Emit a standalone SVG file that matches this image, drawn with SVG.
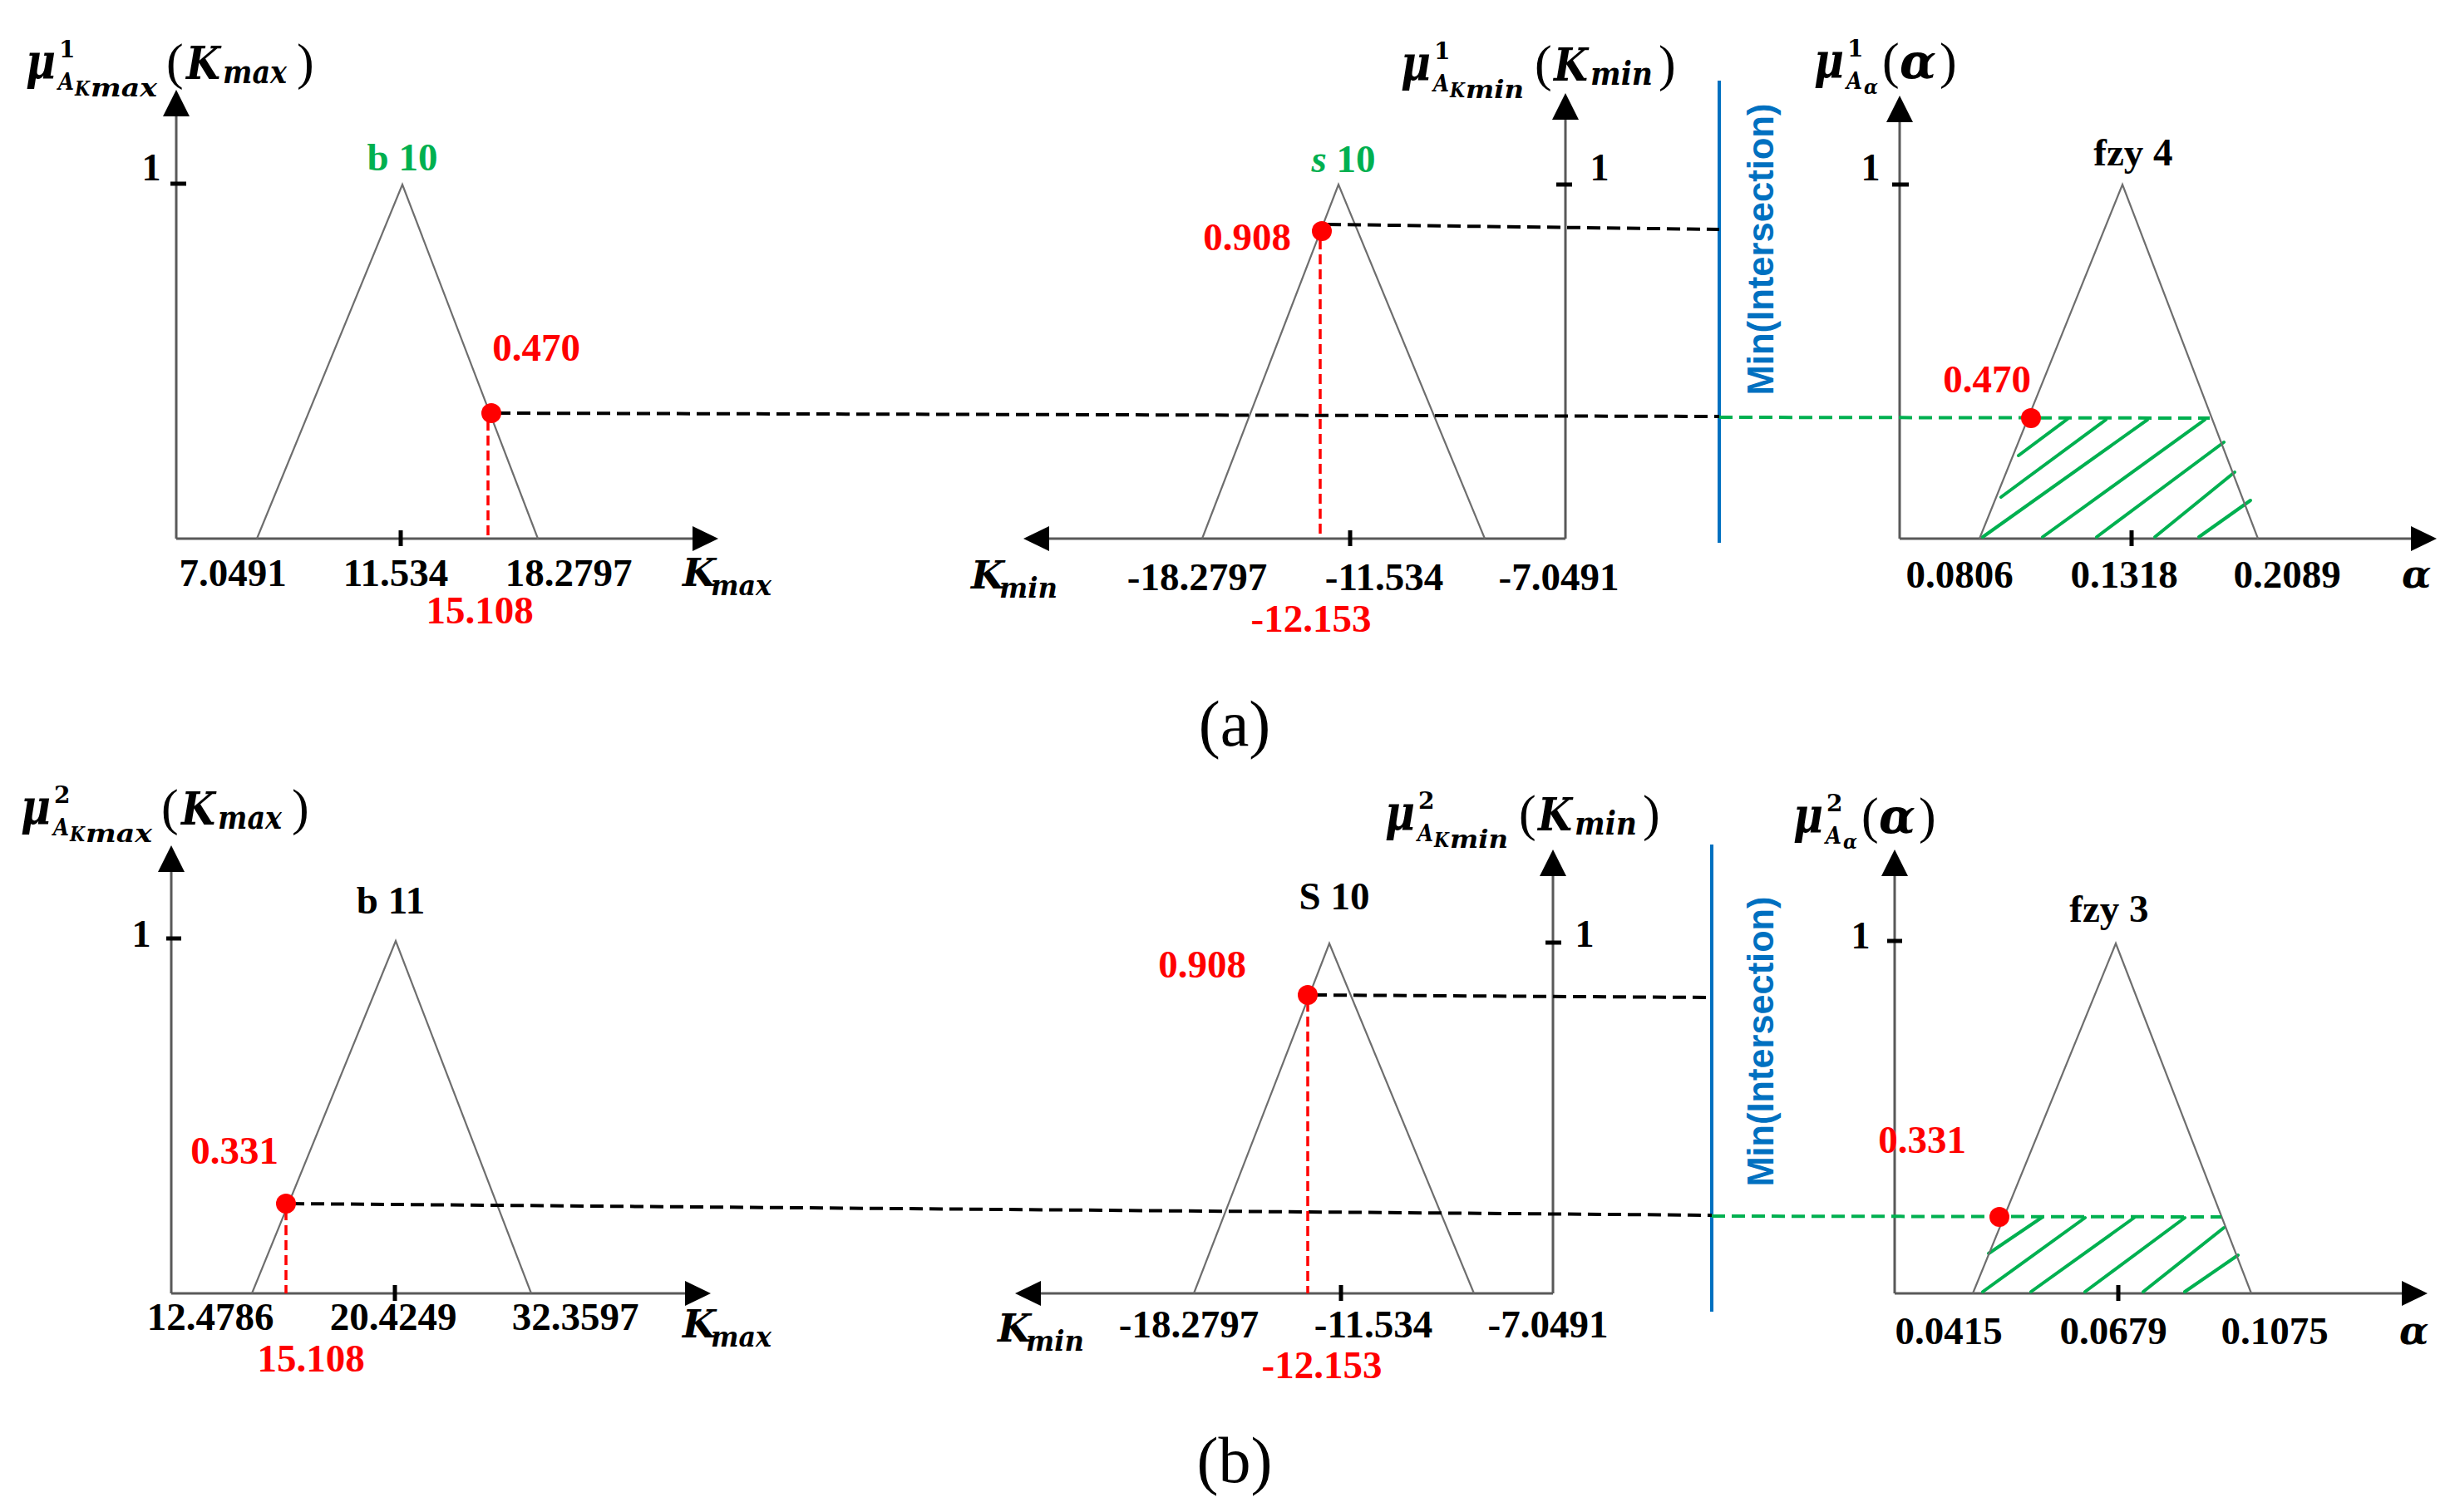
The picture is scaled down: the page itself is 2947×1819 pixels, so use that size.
<svg xmlns="http://www.w3.org/2000/svg" width="2947" height="1819" viewBox="0 0 2947 1819">
<style>
.ax{stroke:#595959;stroke-width:3;fill:none}
.tri{stroke:#6e6e6e;stroke-width:2.2;fill:none}
.tk{stroke:#000;stroke-width:5}
.ah{fill:#000}
.dk{stroke:#000;stroke-width:4;stroke-dasharray:16 8;fill:none}
.dr{stroke:#FF0000;stroke-width:3.5;stroke-dasharray:12 6}
.dg{stroke:#00B050;stroke-width:4;stroke-dasharray:16 8}
.ht{stroke:#00B050;stroke-width:4;stroke-linecap:round}
.bl{stroke:#0070C0;stroke-width:4}
.dot{fill:#FF0000}
.num{font-family:"Liberation Serif",serif;font-weight:bold;font-size:47px;text-anchor:middle;fill:#000}
.one{font-family:"Liberation Serif",serif;font-weight:bold;font-size:46px;text-anchor:middle;fill:#000}
.red{fill:#FF0000}
.grn{fill:#00B050}
.mi{font-family:"DejaVu Serif",serif;font-weight:bold;font-style:italic;fill:#000}
.up{font-style:normal}
.par{font-family:"Liberation Serif",serif;font-weight:normal;font-style:normal;font-size:62px}
.mint{font-family:"Liberation Sans",sans-serif;font-weight:bold;font-size:44px;fill:#0070C0;text-anchor:middle}
.cap{font-family:"Liberation Serif",serif;font-size:78px;text-anchor:middle;fill:#000}
</style>

<!-- ===================== Panel (a) ===================== -->
<g id="a-kmax">
  <line class="ax" x1="212" y1="648" x2="212" y2="138"/>
  <polygon class="ah" points="212,108 196,140 228,140"/>
  <line class="ax" x1="212" y1="648" x2="834" y2="648"/>
  <polygon class="ah" points="864,648 833,633 833,663"/>
  <line class="tk" x1="205" y1="221" x2="224" y2="221"/>
  <line class="tk" x1="482" y1="638" x2="482" y2="657"/>
  <polyline class="tri" points="309,648 484,222 647,648"/>
  <text class="one" x="182" y="217">1</text>
  <text class="num grn" x="484" y="205">b 10</text>
  <text class="num red" x="645" y="434">0.470</text>
  <text class="num" x="280" y="705">7.0491</text>
  <text class="num" x="476" y="705">11.534</text>
  <text class="num" x="684" y="705">18.2797</text>
  <text class="num red" x="577" y="750">15.108</text>
  <text class="mi" x="821" y="705" font-size="46">K<tspan x="855" y="716" font-size="34" textLength="73" lengthAdjust="spacingAndGlyphs">max</tspan></text>
  <text class="mi" transform="translate(31,95)" font-size="60"><tspan x="0" y="0" textLength="36" lengthAdjust="spacingAndGlyphs">μ</tspan><tspan class="up" x="40" y="-26" font-size="28">1</tspan><tspan x="39" y="13" font-size="28" textLength="19" lengthAdjust="spacingAndGlyphs">A</tspan><tspan x="59" y="20" font-size="25" textLength="18" lengthAdjust="spacingAndGlyphs">K</tspan><tspan x="78" y="21" font-size="30" textLength="80" lengthAdjust="spacingAndGlyphs">max</tspan><tspan class="par" x="169" y="0">(</tspan><tspan x="193" y="0" font-size="54" textLength="41" lengthAdjust="spacingAndGlyphs">K</tspan><tspan x="237" y="5" font-size="40" textLength="77" lengthAdjust="spacingAndGlyphs">max</tspan><tspan class="par" x="326" y="0">)</tspan></text>
</g>

<g id="a-kmin">
  <line class="ax" x1="1883" y1="648" x2="1883" y2="142"/>
  <polygon class="ah" points="1883,112 1867,144 1899,144"/>
  <line class="ax" x1="1883" y1="648" x2="1260" y2="648"/>
  <polygon class="ah" points="1231,648 1262,633 1262,663"/>
  <line class="tk" x1="1872" y1="222" x2="1891" y2="222"/>
  <line class="tk" x1="1624" y1="638" x2="1624" y2="657"/>
  <polyline class="tri" points="1446,648 1610,222 1786,648"/>
  <text class="one" x="1924" y="217">1</text>
  <text class="num grn" x="1616" y="207"><tspan font-style="italic">s</tspan> 10</text>
  <text class="num red" x="1500" y="301">0.908</text>
  <text class="num" x="1440" y="710">-18.2797</text>
  <text class="num" x="1665" y="710">-11.534</text>
  <text class="num" x="1875" y="710">-7.0491</text>
  <text class="num red" x="1577" y="760">-12.153</text>
  <text class="mi" x="1168" y="708" font-size="46">K<tspan x="1202" y="719" font-size="34" textLength="70" lengthAdjust="spacingAndGlyphs">min</tspan></text>
  <text class="mi" transform="translate(1685,97)" font-size="60"><tspan x="0" y="0" textLength="36" lengthAdjust="spacingAndGlyphs">μ</tspan><tspan class="up" x="40" y="-26" font-size="28">1</tspan><tspan x="39" y="13" font-size="28" textLength="19" lengthAdjust="spacingAndGlyphs">A</tspan><tspan x="59" y="20" font-size="25" textLength="18" lengthAdjust="spacingAndGlyphs">K</tspan><tspan x="78" y="21" font-size="30" textLength="70" lengthAdjust="spacingAndGlyphs">min</tspan><tspan class="par" x="161" y="0">(</tspan><tspan x="184" y="0" font-size="54" textLength="41" lengthAdjust="spacingAndGlyphs">K</tspan><tspan x="228" y="5" font-size="40" textLength="75" lengthAdjust="spacingAndGlyphs">min</tspan><tspan class="par" x="310" y="0">)</tspan></text>
</g>

<g id="a-min">
  <line class="bl" x1="2068" y1="97" x2="2068" y2="653"/>
  <text class="mint" transform="translate(2133,300) rotate(-90)" textLength="351" lengthAdjust="spacingAndGlyphs">Min(Intersection)</text>
</g>

<g id="a-alpha">
  <line class="ax" x1="2285" y1="648" x2="2285" y2="145"/>
  <polygon class="ah" points="2285,115 2269,147 2301,147"/>
  <line class="ax" x1="2285" y1="648" x2="2902" y2="648"/>
  <polygon class="ah" points="2931,648 2900,633 2900,663"/>
  <line class="tk" x1="2276" y1="222" x2="2296" y2="222"/>
  <line class="tk" x1="2564" y1="638" x2="2564" y2="657"/>
  <g>
    <line class="ht" x1="2428" y1="548" x2="2487" y2="504"/>
    <line class="ht" x1="2407" y1="598" x2="2533" y2="505"/>
    <line class="ht" x1="2385" y1="646" x2="2583" y2="505"/>
    <line class="ht" x1="2457" y1="646" x2="2652" y2="505"/>
    <line class="ht" x1="2522" y1="646" x2="2675" y2="532"/>
    <line class="ht" x1="2592" y1="646" x2="2688" y2="568"/>
    <line class="ht" x1="2645" y1="646" x2="2707" y2="602"/>
  </g>
  <polyline class="tri" points="2381,648 2553,222 2716,648"/>
  <text class="one" x="2250" y="217">1</text>
  <text class="num" x="2566" y="199">fzy 4</text>
  <text class="num red" x="2390" y="472">0.470</text>
  <text class="num" x="2357" y="707">0.0806</text>
  <text class="num" x="2555" y="707">0.1318</text>
  <text class="num" x="2751" y="707">0.2089</text>
  <text class="mi" x="2889" y="707" font-size="46">α</text>
  <text class="mi" transform="translate(2182,94)" font-size="60"><tspan x="0" y="0" textLength="36" lengthAdjust="spacingAndGlyphs">μ</tspan><tspan class="up" x="40" y="-26" font-size="28">1</tspan><tspan x="39" y="13" font-size="28" textLength="19" lengthAdjust="spacingAndGlyphs">A</tspan><tspan x="60" y="19" font-size="25" textLength="17" lengthAdjust="spacingAndGlyphs">α</tspan><tspan class="par" x="82" y="0">(</tspan><tspan x="103" y="0" font-size="58" textLength="44" lengthAdjust="spacingAndGlyphs">α</tspan><tspan class="par" x="151" y="0">)</tspan></text>
</g>

<text id="cap-a" class="cap" x="1485" y="897">(a)</text>

<!-- ===================== Panel (b) ===================== -->
<g id="b-kmax">
  <line class="ax" x1="206" y1="1556" x2="206" y2="1047"/>
  <polygon class="ah" points="206,1017 190,1049 222,1049"/>
  <line class="ax" x1="206" y1="1556" x2="826" y2="1556"/>
  <polygon class="ah" points="855,1556 824,1541 824,1571"/>
  <line class="tk" x1="200" y1="1129" x2="218" y2="1129"/>
  <line class="tk" x1="475" y1="1546" x2="475" y2="1565"/>
  <polyline class="tri" points="303,1556 476,1132 639,1556"/>
  <text class="one" x="170" y="1139">1</text>
  <text class="num" x="470" y="1099">b 11</text>
  <text class="num red" x="282" y="1400">0.331</text>
  <text class="num" x="253" y="1600">12.4786</text>
  <text class="num" x="473" y="1600">20.4249</text>
  <text class="num" x="692" y="1600">32.3597</text>
  <text class="num red" x="374" y="1650">15.108</text>
  <text class="mi" x="821" y="1609" font-size="46">K<tspan x="855" y="1620" font-size="34" textLength="73" lengthAdjust="spacingAndGlyphs">max</tspan></text>
  <text class="mi" transform="translate(25,992)" font-size="60"><tspan x="0" y="0" textLength="36" lengthAdjust="spacingAndGlyphs">μ</tspan><tspan class="up" x="40" y="-26" font-size="28">2</tspan><tspan x="39" y="13" font-size="28" textLength="19" lengthAdjust="spacingAndGlyphs">A</tspan><tspan x="59" y="20" font-size="25" textLength="18" lengthAdjust="spacingAndGlyphs">K</tspan><tspan x="78" y="21" font-size="30" textLength="80" lengthAdjust="spacingAndGlyphs">max</tspan><tspan class="par" x="169" y="0">(</tspan><tspan x="193" y="0" font-size="54" textLength="41" lengthAdjust="spacingAndGlyphs">K</tspan><tspan x="237" y="5" font-size="40" textLength="77" lengthAdjust="spacingAndGlyphs">max</tspan><tspan class="par" x="326" y="0">)</tspan></text>
</g>

<g id="b-kmin">
  <line class="ax" x1="1868" y1="1556" x2="1868" y2="1052"/>
  <polygon class="ah" points="1868,1022 1852,1054 1884,1054"/>
  <line class="ax" x1="1868" y1="1556" x2="1250" y2="1556"/>
  <polygon class="ah" points="1221,1556 1252,1541 1252,1571"/>
  <line class="tk" x1="1859" y1="1134" x2="1878" y2="1134"/>
  <line class="tk" x1="1613" y1="1546" x2="1613" y2="1565"/>
  <polyline class="tri" points="1436,1556 1599,1135 1773,1556"/>
  <text class="one" x="1906" y="1139">1</text>
  <text class="num" x="1605" y="1094">S 10</text>
  <text class="num red" x="1446" y="1176">0.908</text>
  <text class="num" x="1430" y="1609">-18.2797</text>
  <text class="num" x="1652" y="1609">-11.534</text>
  <text class="num" x="1862" y="1609">-7.0491</text>
  <text class="num red" x="1590" y="1658">-12.153</text>
  <text class="mi" x="1200" y="1614" font-size="46">K<tspan x="1234" y="1625" font-size="34" textLength="70" lengthAdjust="spacingAndGlyphs">min</tspan></text>
  <text class="mi" transform="translate(1666,999)" font-size="60"><tspan x="0" y="0" textLength="36" lengthAdjust="spacingAndGlyphs">μ</tspan><tspan class="up" x="40" y="-26" font-size="28">2</tspan><tspan x="39" y="13" font-size="28" textLength="19" lengthAdjust="spacingAndGlyphs">A</tspan><tspan x="59" y="20" font-size="25" textLength="18" lengthAdjust="spacingAndGlyphs">K</tspan><tspan x="78" y="21" font-size="30" textLength="70" lengthAdjust="spacingAndGlyphs">min</tspan><tspan class="par" x="161" y="0">(</tspan><tspan x="184" y="0" font-size="54" textLength="41" lengthAdjust="spacingAndGlyphs">K</tspan><tspan x="228" y="5" font-size="40" textLength="75" lengthAdjust="spacingAndGlyphs">min</tspan><tspan class="par" x="310" y="0">)</tspan></text>
</g>

<g id="b-min">
  <line class="bl" x1="2059" y1="1016" x2="2059" y2="1578"/>
  <text class="mint" transform="translate(2133,1253) rotate(-90)" textLength="349" lengthAdjust="spacingAndGlyphs">Min(Intersection)</text>
</g>

<g id="b-alpha">
  <line class="ax" x1="2279" y1="1556" x2="2279" y2="1052"/>
  <polygon class="ah" points="2279,1022 2263,1054 2295,1054"/>
  <line class="ax" x1="2279" y1="1556" x2="2891" y2="1556"/>
  <polygon class="ah" points="2920,1556 2889,1541 2889,1571"/>
  <line class="tk" x1="2270" y1="1132" x2="2288" y2="1132"/>
  <line class="tk" x1="2548" y1="1546" x2="2548" y2="1565"/>
  <g>
    <line class="ht" x1="2392" y1="1508" x2="2457" y2="1464"/>
    <line class="ht" x1="2385" y1="1554" x2="2508" y2="1465"/>
    <line class="ht" x1="2443" y1="1554" x2="2567" y2="1465"/>
    <line class="ht" x1="2508" y1="1554" x2="2628" y2="1465"/>
    <line class="ht" x1="2578" y1="1554" x2="2675" y2="1477"/>
    <line class="ht" x1="2628" y1="1554" x2="2692" y2="1510"/>
  </g>
  <polyline class="tri" points="2373,1556 2545,1135 2708,1556"/>
  <text class="one" x="2238" y="1141">1</text>
  <text class="num" x="2537" y="1109">fzy 3</text>
  <text class="num red" x="2312" y="1387">0.331</text>
  <text class="num" x="2344" y="1617">0.0415</text>
  <text class="num" x="2542" y="1617">0.0679</text>
  <text class="num" x="2736" y="1617">0.1075</text>
  <text class="mi" x="2886" y="1617" font-size="46">α</text>
  <text class="mi" transform="translate(2157,1002)" font-size="60"><tspan x="0" y="0" textLength="36" lengthAdjust="spacingAndGlyphs">μ</tspan><tspan class="up" x="40" y="-26" font-size="28">2</tspan><tspan x="39" y="13" font-size="28" textLength="19" lengthAdjust="spacingAndGlyphs">A</tspan><tspan x="60" y="19" font-size="25" textLength="17" lengthAdjust="spacingAndGlyphs">α</tspan><tspan class="par" x="82" y="0">(</tspan><tspan x="103" y="0" font-size="58" textLength="44" lengthAdjust="spacingAndGlyphs">α</tspan><tspan class="par" x="151" y="0">)</tspan></text>
</g>

<text id="cap-b" class="cap" x="1485" y="1783">(b)</text>

<!-- ===================== Connectors ===================== -->
<g id="connectors">
  <!-- panel (a) -->
  <line class="dr" x1="587" y1="506" x2="587" y2="648"/>
  <line class="dk" x1="598" y1="497" x2="2068" y2="501"/>
  <line class="dr" x1="1588" y1="288" x2="1588" y2="648"/>
  <line class="dk" x1="1597" y1="270" x2="2068" y2="276"/>
  <line class="dg" x1="2068" y1="502" x2="2658" y2="503"/>
  <circle class="dot" cx="591" cy="497" r="12"/>
  <circle class="dot" cx="1590" cy="278" r="12"/>
  <circle class="dot" cx="2443" cy="503" r="12"/>
  <!-- panel (b) -->
  <line class="dr" x1="344" y1="1456" x2="344" y2="1556"/>
  <line class="dk" x1="350" y1="1448" x2="2059" y2="1462"/>
  <line class="dr" x1="1573" y1="1205" x2="1573" y2="1556"/>
  <line class="dk" x1="1580" y1="1197" x2="2059" y2="1200"/>
  <line class="dg" x1="2059" y1="1463" x2="2672" y2="1464"/>
  <circle class="dot" cx="344" cy="1448" r="12"/>
  <circle class="dot" cx="1573" cy="1197" r="12"/>
  <circle class="dot" cx="2405" cy="1464" r="12"/>
</g>
</svg>
